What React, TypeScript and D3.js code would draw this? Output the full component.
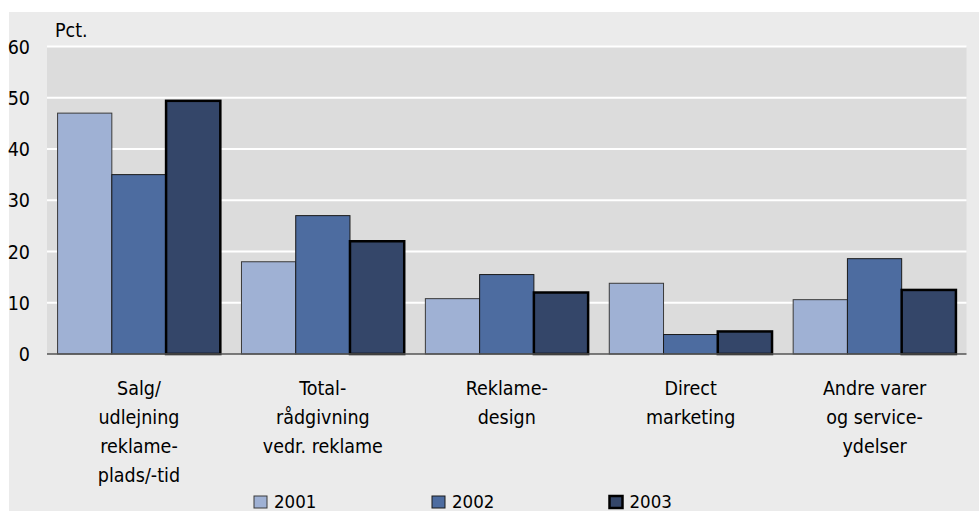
import React from "react";
import * as d3 from "d3";

const categories = [
  ["Salg/", "udlejning", "reklame-", "plads/-tid"],
  ["Total-", "rådgivning", "vedr. reklame"],
  ["Reklame-", "design"],
  ["Direct", "marketing"],
  ["Andre varer", "og service-", "ydelser"],
];
const years = ["2001", "2002", "2003"];
const values2001 = [47, 18, 10.8, 13.8, 10.6];
const values2002 = [35, 27, 15.5, 3.8, 18.6];
const values2003 = [49.4, 22, 12, 4.4, 12.5];
const yTicks = [0, 10, 20, 30, 40, 50, 60];

const series = [values2001, values2002, values2003];
const fills = ["#9fb1d4", "#4d6ca0", "#344669"];
const strokes = ["#3a3a3a", "#1a1a1a", "#000000"];
const strokeW = [1, 1, 2.5];

const W = 979;
const H = 511;
const left = 47;
const right = 966.5;
const top = 46.5;
const bottom = 354;
const FONT = "'Liberation Sans Narrow', 'Arial Narrow', 'DejaVu Sans Condensed', sans-serif";

export default function App() {
  const y = d3.scaleLinear().domain([0, 60]).range([bottom, top]);
  const x0 = d3
    .scaleBand<number>()
    .domain(d3.range(categories.length))
    .range([left, right])
    .paddingInner(0.115)
    .paddingOuter(0.0575);
  const x1 = d3.scaleBand<number>().domain([0, 1, 2]).range([0, x0.bandwidth()]);
  const band = (right - left) / categories.length;

  return (
    <svg
      width={W}
      height={H}
      style={{ position: "absolute", left: 0, top: 0, fontFamily: FONT }}
    >
      <rect x={0} y={0} width={W} height={H} fill="#ffffff" />
      <rect x={9} y={12} width={W - 9} height={H - 12} fill="#ebebeb" />
      <rect x={left} y={top} width={right - left} height={bottom - top} fill="#dcdcdc" />
      {yTicks.filter((t) => t > 0).map((t) => (
        <line key={t} x1={left} x2={right} y1={y(t)} y2={y(t)} stroke="#ffffff" strokeWidth={2} />
      ))}
      {yTicks.map((t) => (
        <text key={t} x={30} y={y(t) + 7} textAnchor="end" fontSize={19.5} fill="#000">
          {t}
        </text>
      ))}
      <text x={55} y={37} fontSize={19.5} fill="#000">Pct.</text>
      {categories.map((c, i) =>
        series.map((s, j) => {
          const bx = (x0(i) as number) + (x1(j) as number);
          const by = y(s[i]);
          return (
            <rect
              key={`${i}-${j}`}
              x={bx}
              y={by}
              width={x1.bandwidth()}
              height={bottom - by}
              fill={fills[j]}
              stroke={strokes[j]}
              strokeWidth={strokeW[j]}
            />
          );
        })
      )}
      <line x1={left} x2={right} y1={bottom} y2={bottom} stroke="#555" strokeWidth={1.5} />
      {categories.map((lines, i) => (
        <text key={i} textAnchor="middle" fontSize={19.5} fill="#000">
          {lines.map((l, k) => (
            <tspan key={k} x={left + band * (i + 0.5)} y={395 + k * 29}>
              {l}
            </tspan>
          ))}
        </text>
      ))}
      {years.map((yr, j) => {
        const lx = [254, 432, 609.5][j];
        return (
          <g key={yr}>
            <rect
              x={lx}
              y={496}
              width={13}
              height={12}
              fill={fills[j]}
              stroke={strokes[j]}
              strokeWidth={j === 2 ? 2.5 : 1}
            />
            <text x={lx + 20} y={508} fontSize={18.5} fill="#000">
              {yr}
            </text>
          </g>
        );
      })}
    </svg>
  );
}
